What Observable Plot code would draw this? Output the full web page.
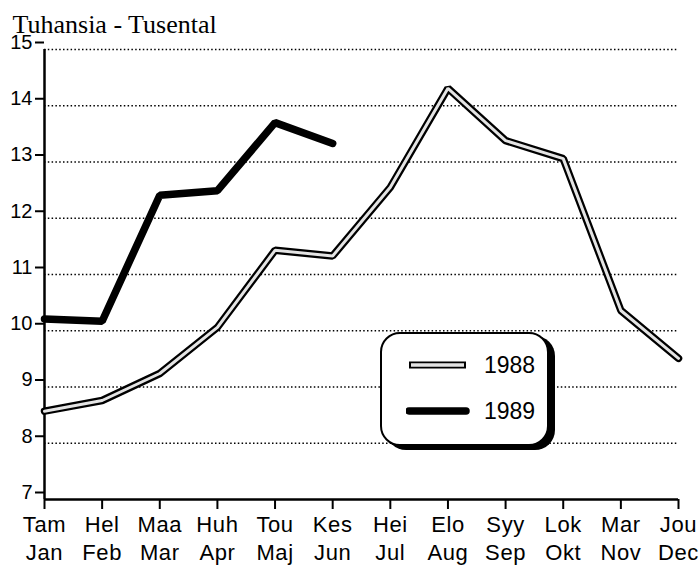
<!DOCTYPE html>
<html>
<head>
<meta charset="utf-8">
<script src="https://cdn.jsdelivr.net/npm/d3@7"></script>
<script src="https://cdn.jsdelivr.net/npm/@observablehq/plot@0.6"></script>
<style>
  html, body { margin: 0; padding: 0; background: #fff; }
  #wrap { position: relative; width: 700px; height: 565px; overflow: hidden; }
  #legend {
    position: absolute; left: 380px; top: 332px; width: 165px; height: 110px;
    border: 2px solid #000; border-radius: 20px; background: #fff;
    box-shadow: 6px 4px 0 #000;
    font-family: "Liberation Sans", Arial, sans-serif; font-size: 23px; color: #000;
  }
  #legend .row { position: absolute; left: 0; height: 30px; display: flex; align-items: center; }
  #legend svg { display: block; }
  .xlab text { letter-spacing: 0.6px; }
</style>
</head>
<body>
<div id="wrap">
  <div id="chart"></div>
  <div id="legend"></div>
</div>
<script>
const title = "Tuhansia - Tusental";
const monthsFi = ["Tam","Hel","Maa","Huh","Tou","Kes","Hei","Elo","Syy","Lok","Mar","Jou"];
const monthsSv = ["Jan","Feb","Mar","Apr","Maj","Jun","Jul","Aug","Sep","Okt","Nov","Dec"];
const values1988 = [8.57, 8.76, 9.24, 10.06, 11.43, 11.33, 12.55, 14.31, 13.38, 13.06, 10.36, 9.51];
const values1989 = [10.21, 10.17, 12.41, 12.49, 13.70, 13.33];
const yTicks = [7, 8, 9, 10, 11, 12, 13, 14, 15];
const gridValues = [8, 9, 10, 11, 12, 13, 14, 15];
const seriesNames = ["1988", "1989"];

const data1988 = values1988.map((v, i) => ({month: i, value: v}));
const data1989 = values1989.map((v, i) => ({month: i, value: v}));
const monthIdx = d3.range(monthsFi.length);

const chart = Plot.plot({
  width: 700,
  height: 565,
  marginLeft: 44,
  marginRight: 22,
  marginTop: 49,
  marginBottom: 66,
  style: {fontFamily: "Liberation Sans, Arial, sans-serif", color: "#000", background: "#fff"},
  x: {type: "linear", domain: [0, 11], label: null},
  y: {domain: [7, 15], label: null},
  marks: [
    Plot.ruleY(gridValues, {x1: 0, x2: 11, stroke: "#000", strokeWidth: 1.5, strokeDasharray: "1.5,2.3"}),
    Plot.axisY({ticks: yTicks, tickSize: 9, tickPadding: 3, fontSize: 20, dy: -7, strokeWidth: 2, tickFormat: d => String(d), label: null}),
    Plot.axisX({ticks: monthIdx, tickFormat: i => monthsFi[i], tickSize: 10, tickPadding: 7, fontSize: 22, strokeWidth: 2, label: null, className: "xlab"}),
    Plot.axisX({ticks: monthIdx, tickFormat: i => monthsSv[i], tickSize: 0, tickPadding: 45, fontSize: 22, label: null, className: "xlab"}),
    Plot.ruleX([0], {y1: 7, y2: 15, stroke: "#000", strokeWidth: 2.5}),
    Plot.ruleY([7], {x1: 0, x2: 11, stroke: "#000", strokeWidth: 2.5}),
    Plot.line(data1988, {x: "month", y: "value", stroke: "#000", strokeWidth: 7.5, strokeLinejoin: "miter"}),
    Plot.line(data1988, {x: "month", y: "value", stroke: "#e4e4e4", strokeWidth: 3, strokeLinejoin: "miter"}),
    Plot.line(data1989, {x: "month", y: "value", stroke: "#000", strokeWidth: 7.5, strokeLinejoin: "miter"}),
    Plot.text([title], {frameAnchor: "top-left", dx: -32, dy: -17, textAnchor: "start", lineAnchor: "bottom",
      fontFamily: "Liberation Serif, Times New Roman, serif", fontSize: 26})
  ]
});
document.getElementById("chart").appendChild(chart);

// Legend (decorative overlay)
const legend = document.getElementById("legend");
const rows = [
  {name: seriesNames[0], top: 16, draw: (s) => {
    s.append("line").attr("x1", 3).attr("x2", 60).attr("y1", 8).attr("y2", 8).attr("stroke", "#000").attr("stroke-width", 7);
    s.append("line").attr("x1", 5).attr("x2", 58).attr("y1", 8).attr("y2", 8).attr("stroke", "#e4e4e4").attr("stroke-width", 3.5);
  }},
  {name: seriesNames[1], top: 62, draw: (s) => {
    s.append("line").attr("x1", 3).attr("x2", 60).attr("y1", 8).attr("y2", 8).attr("stroke", "#000").attr("stroke-width", 7.5).attr("stroke-linecap", "round");
  }}
];
rows.forEach(r => {
  const row = d3.select(legend).append("div").attr("class", "row").style("top", r.top + "px").style("left", "24px");
  const s = row.append("svg").attr("width", 64).attr("height", 16);
  r.draw(s);
  row.append("span").style("margin-left", "14px").text(r.name);
});
</script>
</body>
</html>
